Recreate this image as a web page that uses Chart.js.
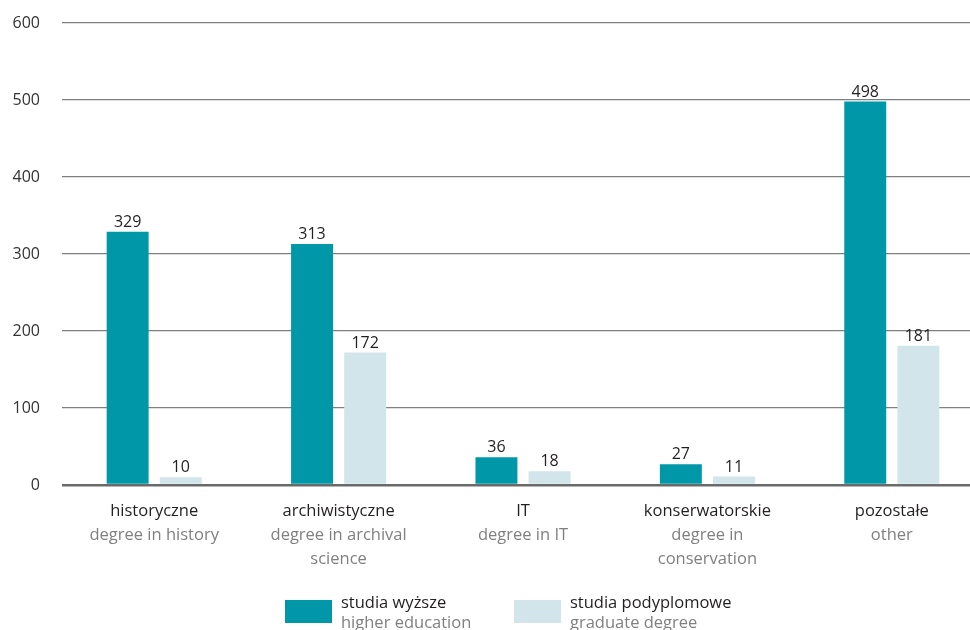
<!DOCTYPE html>
<html>
<head>
<meta charset="utf-8">
<script src="https://cdn.jsdelivr.net/npm/chart.js@4.4.1/dist/chart.umd.min.js"></script>
<style>
  html, body { margin: 0; padding: 0; background: #fff; overflow: hidden; }
  #c { display: block; }
</style>
</head>
<body>
<canvas id="c" width="984" height="630"></canvas>
<script>
// ---- data ----
const categories = ['historyczne', 'archiwistyczne', 'IT', 'konserwatorskie', 'pozostałe'];
const categoriesEn = [['degree in history'], ['degree in archival', 'science'], ['degree in IT'], ['degree in', 'conservation'], ['other']];
const higherEd = [329, 313, 36, 27, 498];
const graduate = [10, 172, 18, 11, 181];
const seriesNames = ['studia wyższe', 'studia podyplomowe'];
const seriesNamesEn = ['higher education', 'graduate degree'];
const yTicks = [0, 100, 200, 300, 400, 500, 600];

const TEAL = '#0098a8';
const LIGHT = '#d1e5ea';
const FONT = '"Open Sans", sans-serif';
const DARK = '#231f20';
const GREY = '#808080';

// value labels, two-line category labels and legend
const annotate = {
    id: 'annotate',
    afterDatasetsDraw(chart) {
        const ctx = chart.ctx;
        ctx.save();
        // value labels above bars
        ctx.font = '16px ' + FONT;
        ctx.fillStyle = DARK;
        ctx.textAlign = 'center';
        ctx.textBaseline = 'alphabetic';
        chart.data.datasets.forEach((ds, di) => {
            chart.getDatasetMeta(di).data.forEach((bar, i) => {
                ctx.fillText(String(ds.data[i]), bar.x, bar.y - 5);
            });
        });

        // category labels
        const xs = chart.scales.x;
        categories.forEach((c, i) => {
            const x = xs.getPixelForValue(i);
            ctx.font = '16.5px ' + FONT;
            ctx.fillStyle = DARK;
            ctx.fillText(c, x, 516);
            ctx.fillStyle = GREY;
            categoriesEn[i].forEach((line, j) => ctx.fillText(line, x, 540 + j * 24));
        });

        // legend
        const items = [
            { color: TEAL, x: 285 },
            { color: LIGHT, x: 514 }
        ];
        ctx.textAlign = 'left';
        items.forEach((it, k) => {
            ctx.fillStyle = it.color;
            ctx.fillRect(it.x, 600, 47, 23);
            ctx.font = '16.5px ' + FONT;
            ctx.fillStyle = DARK;
            ctx.fillText(seriesNames[k], it.x + 56, 608);
            ctx.fillStyle = GREY;
            ctx.fillText(seriesNamesEn[k], it.x + 56, 628);
        });
        ctx.restore();
    }
};

new Chart(document.getElementById('c'), {
    type: 'bar',
    data: {
        labels: categories,
        datasets: [
            { label: seriesNames[0], data: higherEd, backgroundColor: TEAL, categoryPercentage: 0.576, barPercentage: 0.79 },
            { label: seriesNames[1], data: graduate, backgroundColor: LIGHT, categoryPercentage: 0.576, barPercentage: 0.79 }
        ]
    },
    plugins: [annotate],
    options: {
        responsive: false,
        animation: false,
        layout: { padding: { top: 23, right: 0, bottom: 145, left: 0 } },
        plugins: { legend: { display: false }, tooltip: { enabled: false } },
        scales: {
            x: {
                ticks: { display: false },
                grid: { display: false },
                border: { display: false },
                afterFit: s => { s.height = 0; }
            },
            y: {
                min: 0,
                max: 600,
                afterBuildTicks: s => { s.ticks = yTicks.map(v => ({ value: v })); },
                afterFit: s => { s.width = 62; },
                ticks: { color: '#333', font: { family: 'Open Sans', size: 16 }, padding: 0 },
                grid: {
                    drawTicks: true,
                    tickLength: 22,
                    tickColor: 'rgba(0,0,0,0)',
                    color: ctx => ctx.tick && ctx.tick.value === 0 ? '#6a6a6a' : '#7f7f7f',
                    lineWidth: ctx => ctx.tick && ctx.tick.value === 0 ? 2.5 : 1.3
                },
                border: { display: false }
            }
        }
    }
});
</script>
</body>
</html>
